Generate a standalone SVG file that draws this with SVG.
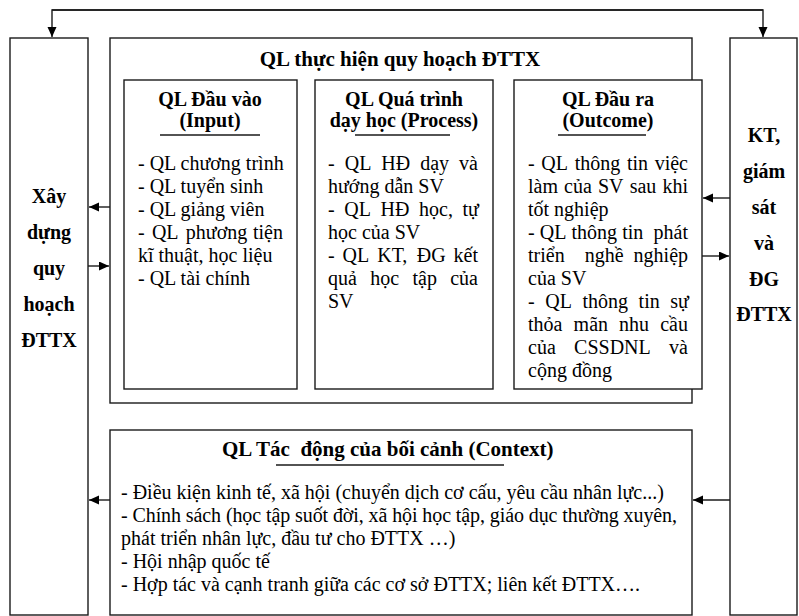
<svg xmlns="http://www.w3.org/2000/svg" width="799" height="616" viewBox="0 0 799 616">
<style>
text{font-family:"Liberation Serif","Times New Roman",serif;fill:#000}
.b{font-weight:bold;font-size:20px}
.t{font-weight:bold;font-size:21px}
.n{font-size:20px}
.m{text-anchor:middle}
.box{fill:#fff;stroke:#1a1a1a;stroke-width:1.4}
.ln{fill:none;stroke:#1a1a1a;stroke-width:1.4}
.ul{stroke:#1a1a1a;stroke-width:1.4}
</style>
<defs>
<marker id="ah" markerUnits="userSpaceOnUse" markerWidth="11" markerHeight="10" refX="10" refY="4.5" orient="auto">
<path d="M0,0 L10,4.5 L0,9 z" fill="#000"/>
</marker>
</defs>

<g id="connectors">
<path class="ln" d="M763,10 H52 V37" marker-end="url(#ah)"/>
<path class="ln" d="M52,10 H763 V37" marker-end="url(#ah)"/>
<path class="ln" d="M110,207 H89" marker-end="url(#ah)"/>
<path class="ln" d="M88,266 H109" marker-end="url(#ah)"/>
<path class="ln" d="M297,239 H314" marker-end="url(#ah)"/>
<path class="ln" d="M493,239 H513" marker-end="url(#ah)"/>
<path class="ln" d="M730,198 H703" marker-end="url(#ah)"/>
<path class="ln" d="M702,256 H729" marker-end="url(#ah)"/>
<path class="ln" d="M110,500 H89" marker-end="url(#ah)"/>
<path class="ln" d="M730,500 H693" marker-end="url(#ah)"/>
</g>

<g id="xay-dung">
<rect class="box" x="10" y="38" width="78" height="577"/>
<text class="b m" x="49" y="203">Xây</text>
<text class="b m" x="49" y="239">dựng</text>
<text class="b m" x="49" y="275">quy</text>
<text class="b m" x="49" y="311">hoạch</text>
<text class="b m" x="49" y="347">ĐTTX</text>
</g>

<g id="kiem-tra">
<rect class="box" x="730" y="38" width="67" height="577"/>
<text class="b m" x="764" y="142">KT,</text>
<text class="b m" x="764" y="178">giám</text>
<text class="b m" x="764" y="214">sát</text>
<text class="b m" x="764" y="250">và</text>
<text class="b m" x="764" y="286">ĐG</text>
<text class="b m" x="764" y="321">ĐTTX</text>
</g>

<g id="thuc-hien">
<rect class="box" x="110" y="38" width="582" height="365"/>
<text class="t m" x="400" y="66">QL thực hiện quy hoạch ĐTTX</text>
</g>

<g id="dau-vao">
<rect class="box" x="124" y="80" width="173" height="309"/>
<text class="b m" x="210" y="106">QL Đầu vào</text>
<text class="b m" x="210" y="127">(Input)</text>
<line class="ul" x1="160" y1="135" x2="260" y2="135"/>
<text class="n" x="138" y="170">- QL chương trình</text>
<text class="n" x="138" y="193">- QL tuyển sinh</text>
<text class="n" x="138" y="216">- QL giảng viên</text>
<text class="n" y="239"><tspan x="138">-</tspan><tspan x="151.9">QL</tspan><tspan x="185.8">phương</tspan><tspan x="253">tiện</tspan></text>
<text class="n" x="138" y="262">kĩ thuật, học liệu</text>
<text class="n" x="138" y="285">- QL tài chính</text>
</g>

<g id="qua-trinh">
<rect class="box" x="315" y="80" width="178" height="309"/>
<text class="b m" x="404" y="106">QL Quá trình</text>
<text class="b m" x="404" y="127">dạy học (Process)</text>
<line class="ul" x1="355" y1="135" x2="450" y2="135"/>
<text class="n" y="170"><tspan x="328">-</tspan><tspan x="344.7">QL</tspan><tspan x="381.3">HĐ</tspan><tspan x="420.2">dạy</tspan><tspan x="459.1">và</tspan></text>
<text class="n" x="328" y="193">hướng dẫn SV</text>
<text class="n" y="216"><tspan x="328">-</tspan><tspan x="344.3">QL</tspan><tspan x="380.5">HĐ</tspan><tspan x="419">học,</tspan><tspan x="462.4">tự</tspan></text>
<text class="n" x="328" y="239">học của SV</text>
<text class="n" y="262"><tspan x="328">-</tspan><tspan x="342.6">QL</tspan><tspan x="377.2">KT,</tspan><tspan x="416.8">ĐG</tspan><tspan x="453.6">kết</tspan></text>
<text class="n" y="285"><tspan x="328">quả</tspan><tspan x="370.2">học</tspan><tspan x="412.5">tập</tspan><tspan x="450.2">của</tspan></text>
<text class="n" x="328" y="308">SV</text>
</g>

<g id="dau-ra">
<rect class="box" x="514" y="80" width="188" height="309"/>
<text class="b m" x="608" y="106">QL Đầu ra</text>
<text class="b m" x="608" y="127">(Outcome)</text>
<line class="ul" x1="558" y1="135" x2="646" y2="135"/>
<text class="n" y="170"><tspan x="528">-</tspan><tspan x="541.3">QL</tspan><tspan x="574.7">thông</tspan><tspan x="626.9">tin</tspan><tspan x="654.7">việc</tspan></text>
<text class="n" y="193"><tspan x="528">làm</tspan><tspan x="564.1">của</tspan><tspan x="598">SV</tspan><tspan x="629.7">sau</tspan><tspan x="662.4">khi</tspan></text>
<text class="n" x="528" y="216">tốt nghiệp</text>
<text class="n" y="239"><tspan x="528">-</tspan><tspan x="539.8">QL</tspan><tspan x="571.5">thông</tspan><tspan x="622.2">tin</tspan><tspan x="653.6">phát</tspan></text>
<text class="n" y="262"><tspan x="528">triển</tspan><tspan x="584.7">nghề</tspan><tspan x="633.6">nghiệp</tspan></text>
<text class="n" x="528" y="285">của SV</text>
<text class="n" y="308"><tspan x="528">-</tspan><tspan x="545.2">QL</tspan><tspan x="582.4">thông</tspan><tspan x="638.6">tin</tspan><tspan x="670.2">sự</tspan></text>
<text class="n" y="331"><tspan x="528">thỏa</tspan><tspan x="573.6">mãn</tspan><tspan x="619.1">nhu</tspan><tspan x="660.2">cầu</tspan></text>
<text class="n" y="354"><tspan x="528">của</tspan><tspan x="574.1">CSSDNL</tspan><tspan x="669.1">và</tspan></text>
<text class="n" x="528" y="377">cộng đồng</text>
</g>

<g id="boi-canh">
<rect class="box" x="110" y="430" width="582" height="185"/>
<text class="t" x="222" y="456" xml:space="preserve">QL Tác  động của bối cảnh (Context)</text>
<line class="ul" x1="276" y1="465" x2="504" y2="465"/>
<text class="n" x="121" y="499">- Điều kiện kinh tế, xã hội (chuyển dịch cơ cấu, yêu cầu nhân lực...)</text>
<text class="n" x="121" y="522" textLength="556" lengthAdjust="spacing">- Chính sách (học tập suốt đời, xã hội học tập, giáo dục thường xuyên,</text>
<text class="n" x="121" y="545">phát triển nhân lực, đầu tư cho ĐTTX …)</text>
<text class="n" x="121" y="568">- Hội nhập quốc tế</text>
<text class="n" x="121" y="591">- Hợp tác và cạnh tranh giữa các cơ sở ĐTTX; liên kết ĐTTX….</text>
</g>
</svg>
